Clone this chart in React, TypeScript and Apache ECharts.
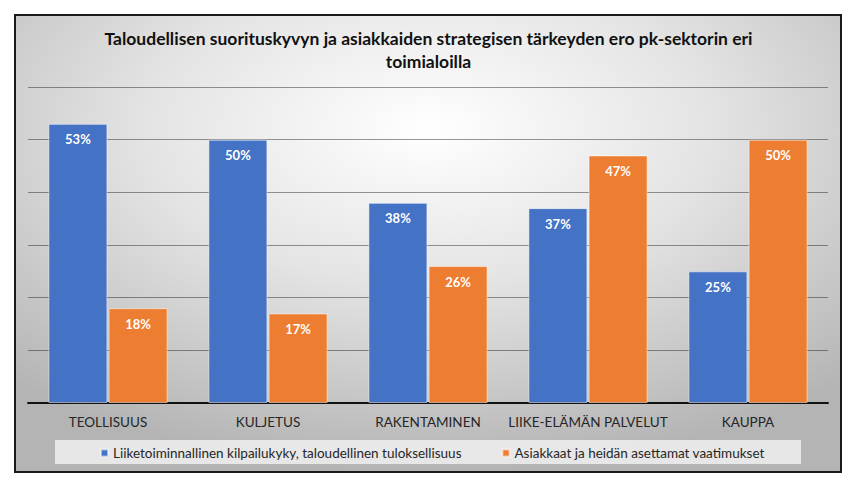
import React, { useEffect, useRef } from "react";
import * as echarts from "echarts";

const categories = ["TEOLLISUUS", "KULJETUS", "RAKENTAMINEN", "LIIKE-ELÄMÄN PALVELUT", "KAUPPA"];
const seriesNames = [
  "Liiketoiminnallinen kilpailukyky, taloudellinen tuloksellisuus",
  "Asiakkaat ja heidän asettamat vaatimukset",
];
const financial = [53, 50, 38, 37, 25];
const customers = [18, 17, 26, 47, 50];
const titleText = "Taloudellisen suorituskyvyn ja asiakkaiden strategisen tärkeyden ero pk-sektorin eri\ntoimialoilla";

const FONT = "Lato, 'Noto Sans', sans-serif";

export default function App() {
  const ref = useRef<HTMLDivElement>(null);
  useEffect(() => {
    if (!ref.current) return;
    const chart = echarts.init(ref.current, undefined, { renderer: "svg" });
    const label = {
      show: true,
      position: "insideTop" as const,
      distance: 9,
      color: "#ffffff",
      fontWeight: "bold" as const,
      fontSize: 13,
      fontFamily: FONT,
      formatter: (p: any) => p.value + "%",
    };
    chart.setOption({
      animation: false,
      backgroundColor: "#ffffff",
      graphic: [
        {
          type: "rect",
          z: -10,
          silent: true,
          shape: { x: 15, y: 15, width: 826, height: 457 },
          style: {
            fill: new echarts.graphic.RadialGradient(0.5, 0.25, 0.75, [
              { offset: 0, color: "#ffffff" },
              { offset: 0.45, color: "#e4e4e4" },
              { offset: 1, color: "#b4b4b4" },
            ]),
            stroke: "#1a1a1a",
            lineWidth: 2,
          },
        },
        {
          type: "rect",
          z: -5,
          silent: true,
          shape: { x: 55, y: 440, width: 746, height: 24 },
          style: { fill: "rgba(240,240,240,0.85)" },
        },
      ],
      title: {
        text: titleText,
        left: "center",
        top: 22,
        textStyle: {
          fontFamily: FONT,
          fontWeight: "bold",
          fontSize: 17.5,
          lineHeight: 23,
          color: "#111111",
        },
      },
      legend: {
        left: 95,
        top: 441,
        itemWidth: 7,
        itemHeight: 7,
        itemGap: 40,
        icon: "rect",
        textStyle: { fontFamily: FONT, fontSize: 13.5, color: "#262626" },
        data: seriesNames,
      },
      grid: { left: 28, right: 29, top: 87, bottom: 79, containLabel: false },
      xAxis: {
        type: "category",
        data: categories,
        axisLine: { lineStyle: { color: "#111111", width: 2 } },
        axisTick: { show: false },
        axisLabel: { interval: 0, fontFamily: FONT, fontSize: 13.5, color: "#262626", margin: 12 },
      },
      yAxis: {
        type: "value",
        min: 0,
        max: 60,
        interval: 10,
        axisLabel: { show: false },
        axisLine: { show: false },
        axisTick: { show: false },
        splitLine: { lineStyle: { color: "rgba(0,0,0,0.4)", width: 1 } },
      },
      series: [
        {
          name: seriesNames[0],
          type: "bar",
          data: financial,
          barWidth: 59,
          barGap: "2%",
          itemStyle: { color: "#4472C4", borderColor: "rgba(255,255,255,0.5)", borderWidth: 1 },
          label,
        },
        {
          name: seriesNames[1],
          type: "bar",
          data: customers,
          barWidth: 59,
          itemStyle: { color: "#ED7D31", borderColor: "rgba(255,255,255,0.5)", borderWidth: 1 },
          label,
        },
      ],
    });
    return () => chart.dispose();
  }, []);
  return <div ref={ref} style={{ width: 857, height: 482, position: "absolute", left: 0, top: 0 }} />;
}
